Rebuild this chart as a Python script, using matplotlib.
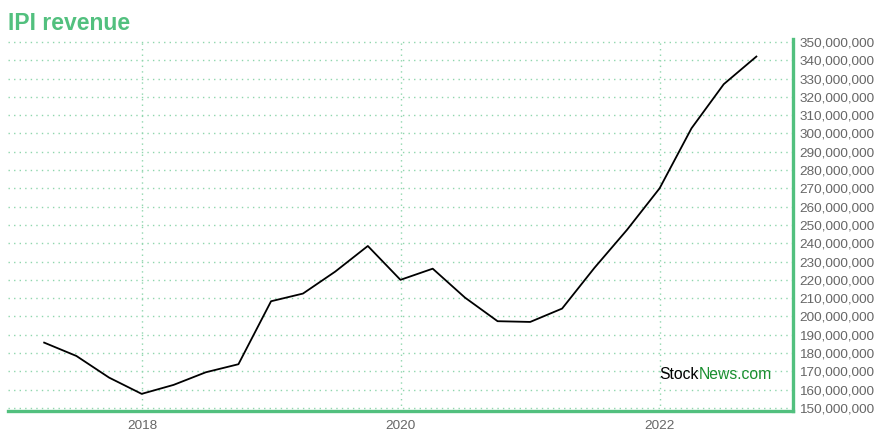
import datetime as dt
import matplotlib
matplotlib.use("Agg")
import matplotlib.pyplot as plt
import matplotlib.dates as mdates
from matplotlib.ticker import FuncFormatter, MultipleLocator

# quarterly revenue, USD
quarters = ["2017-03-31", "2017-06-30", "2017-09-30", "2017-12-31",
            "2018-03-31", "2018-06-30", "2018-09-30", "2018-12-31",
            "2019-03-31", "2019-06-30", "2019-09-30", "2019-12-31",
            "2020-03-31", "2020-06-30", "2020-09-30", "2020-12-31",
            "2021-03-31", "2021-06-30", "2021-09-30", "2021-12-31",
            "2022-03-31", "2022-06-30", "2022-09-30"]
revenue = [185.7e6, 178.4e6, 166.6e6, 157.7e6,
           162.6e6, 169.5e6, 173.9e6, 208.3e6,
           212.5e6, 224.5e6, 238.5e6, 220.0e6,
           226.1e6, 210.3e6, 197.4e6, 197.0e6,
           204.3e6, 226.5e6, 247.3e6, 270.0e6,
           302.8e6, 326.9e6, 342.0e6]

green = "#52c07e"
font = ["Liberation Sans", "DejaVu Sans"]
plt.rcParams["font.family"] = font

dates = [dt.datetime.strptime(q, "%Y-%m-%d") for q in quarters]

fig = plt.figure(figsize=(8.8, 4.4), dpi=100)
ax = fig.add_axes([0.0091, 0.067, 0.8915, 0.8444])

ax.plot(dates, revenue, color="black", lw=1.3)

ax.set_xlim(dt.datetime(2016, 12, 19), dt.datetime(2023, 1, 10))
ax.set_ylim(148.6e6, 351.6e6)

ax.xaxis.set_major_locator(mdates.YearLocator(2))
ax.xaxis.set_major_formatter(mdates.DateFormatter("%Y"))
ax.yaxis.set_major_locator(MultipleLocator(10e6))
ax.yaxis.set_major_formatter(FuncFormatter(lambda v, p: f"{int(round(v)):,}"))
ax.yaxis.tick_right()

ax.tick_params(length=0, labelsize=9.7, labelcolor="#666666")
ax.tick_params(axis="y", pad=5)
ax.tick_params(axis="x", pad=7)

ax.grid(True, color="#8fd6ad", linestyle=(0, (1, 3)), lw=1)

for s in ["left", "top"]:
    ax.spines[s].set_visible(False)
for s in ["right", "bottom"]:
    ax.spines[s].set_color(green)
    ax.spines[s].set_linewidth(2.4)

fig.text(0.009, 0.932, "IPI revenue", color=green, fontsize=16.5,
         fontweight="bold", va="baseline")

# watermark
t1 = ax.text(0.8305, 0.085, "Stock", transform=ax.transAxes, fontsize=11.3,
             color="black", va="baseline")
fig.canvas.draw()
bb = t1.get_window_extent()
x2 = ax.transAxes.inverted().transform((bb.x1, bb.y0))[0]
ax.text(x2, 0.085, "News.com", transform=ax.transAxes, fontsize=11.3,
        color="#1a8f30", va="baseline")

fig.savefig("out.png", dpi=100)
